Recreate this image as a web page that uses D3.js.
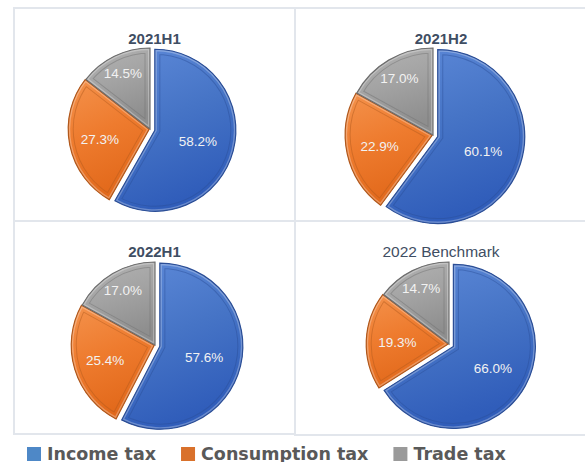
<!DOCTYPE html>
<html>
<head>
<meta charset="utf-8">
<script src="https://cdn.jsdelivr.net/npm/d3@7"></script>
<style>
  body { margin: 0; background: #ffffff; }
  svg { display: block; }
</style>
</head>
<body>
<div id="chart"></div>
<script>
// data
var periods = ["2021H1", "2021H2", "2022H1", "2022 Benchmark"];
var seriesNames = ["Income tax", "Consumption tax", "Trade tax"];
var incomeTax = [58.2, 60.1, 57.6, 66.0];
var consumptionTax = [27.3, 22.9, 25.4, 19.3];
var tradeTax = [14.5, 17.0, 17.0, 14.7];

var W = 585, H = 462;

// panel boxes and pie placement (layout only)
var panels = [
  {x: 14,  y: 8,   w: 281, h: 213, cx: 150, cy: 129, r: 81},
  {x: 295, y: 8,   w: 292, h: 213, cx: 433, cy: 135, r: 87},
  {x: 14,  y: 221, w: 281, h: 213, cx: 155, cy: 345, r: 83},
  {x: 295, y: 221, w: 292, h: 214, cx: 449, cy: 344, r: 82}
];

// per series styling
var cols = [
  {top: "#5D89D8", mid: "#4674C6", bot: "#305DBA", edge: "#2B4E96", legend: "#4E88C7"},
  {top: "#F4924C", mid: "#EE7B2E", bot: "#E2691B", edge: "#B0581C", legend: "#D9712B"},
  {top: "#B4B4B4", mid: "#A3A3A3", bot: "#8E8E8E", edge: "#6E6E6E", legend: "#9A9A9A"}
];
var explode = [5, 0.8, 0];
var labelRatio = [0.55, 0.62, 0.76];

var svg = d3.select("#chart").append("svg")
  .attr("width", W).attr("height", H);
var defs = svg.append("defs");

cols.forEach(function(c, i){
  var g = defs.append("linearGradient").attr("id", "grad" + i)
    .attr("x1", 0).attr("y1", 0).attr("x2", 0.3).attr("y2", 1);
  g.append("stop").attr("offset", "0%").attr("stop-color", c.top);
  g.append("stop").attr("offset", "50%").attr("stop-color", c.mid);
  g.append("stop").attr("offset", "100%").attr("stop-color", c.bot);
});

// panel frames
svg.selectAll("rect.frame").data(panels).enter().append("rect")
  .attr("class", "frame")
  .attr("x", function(d){ return d.x; })
  .attr("y", function(d){ return d.y; })
  .attr("width", function(d){ return d.w; })
  .attr("height", function(d){ return d.h; })
  .attr("fill", "none")
  .attr("stroke", "#E2E6EC")
  .attr("stroke-width", 2);

var pie = d3.pie().sort(null).value(function(d){ return d.v; });

periods.forEach(function(period, pi){
  var p = panels[pi];
  var vals = [incomeTax[pi], consumptionTax[pi], tradeTax[pi]].map(function(v, k){
    return {v: v, k: k};
  });
  var arcs = pie(vals);
  var arc = d3.arc().innerRadius(0).outerRadius(p.r);

  var pg = svg.append("g").attr("transform", "translate(" + p.cx + "," + p.cy + ")");

  var slices = pg.selectAll("g.slice").data(arcs).enter().append("g")
    .attr("class", "slice")
    .attr("transform", function(d){
      var a = (d.startAngle + d.endAngle) / 2;
      var e = explode[d.data.k];
      return "translate(" + (Math.sin(a) * e) + "," + (-Math.cos(a) * e) + ")";
    });

  slices.append("clipPath").attr("id", function(d){ return "clip" + pi + "_" + d.data.k; })
    .append("path").attr("d", arc);

  function clipped(sel){
    return sel.attr("clip-path", function(d){ return "url(#clip" + pi + "_" + d.data.k + ")"; });
  }

  slices.append("path").attr("d", arc)
    .attr("fill", function(d){ return "url(#grad" + d.data.k + ")"; });

  // bevel: dark inset line about 5px inside the edge
  clipped(slices.append("path").attr("d", arc))
    .attr("fill", "none")
    .attr("stroke", function(d){ return cols[d.data.k].edge; })
    .attr("stroke-opacity", 0.45)
    .attr("stroke-width", 11);
  clipped(slices.append("path").attr("d", arc))
    .attr("fill", "none")
    .attr("stroke", function(d){ return "url(#grad" + d.data.k + ")"; })
    .attr("stroke-width", 9);
  // highlight along the rim
  clipped(slices.append("path").attr("d", arc))
    .attr("fill", "none")
    .attr("stroke", "#ffffff")
    .attr("stroke-opacity", 0.28)
    .attr("stroke-width", 4);

  slices.append("path").attr("d", arc)
    .attr("fill", "none")
    .attr("stroke", function(d){ return cols[d.data.k].edge; })
    .attr("stroke-width", 1.2);

  slices.append("text")
    .attr("x", function(d){
      var a = (d.startAngle + d.endAngle) / 2;
      return Math.sin(a) * p.r * labelRatio[d.data.k];
    })
    .attr("y", function(d){
      var a = (d.startAngle + d.endAngle) / 2;
      return -Math.cos(a) * p.r * labelRatio[d.data.k];
    })
    .attr("dy", "0.35em")
    .attr("text-anchor", "middle")
    .style("font-family", "'Liberation Sans', Arial, sans-serif")
    .style("font-size", "13.5px")
    .style("fill", "#F2F2F2")
    .text(function(d){ return d.data.v.toFixed(1) + "%"; });

  svg.append("text")
    .attr("x", p.x + p.w / 2)
    .attr("y", p.y + 36)
    .attr("text-anchor", "middle")
    .style("font-family", "'Liberation Sans', Arial, sans-serif")
    .style("font-size", pi == 3 ? "15.5px" : "15px")
    .style("font-weight", pi == 3 ? "normal" : "bold")
    .style("fill", "#3F4E63")
    .text(period);
});

// legend
var legend = svg.append("g").attr("transform", "translate(27,0)");
var lx = 0;
seriesNames.forEach(function(name, i){
  var item = legend.append("g").attr("transform", "translate(" + lx + ",0)");
  item.append("rect").attr("x", 0).attr("y", 447).attr("width", 14).attr("height", 14)
    .attr("fill", cols[i].legend);
  var t = item.append("text").attr("x", 20).attr("y", 459.5)
    .style("font-family", "'DejaVu Sans', Verdana, sans-serif")
    .style("font-weight", "bold")
    .style("font-size", "17.5px")
    .style("fill", "#595959")
    .text(name);
  lx += 20 + t.node().getComputedTextLength() + 25;
});
</script>
</body>
</html>
